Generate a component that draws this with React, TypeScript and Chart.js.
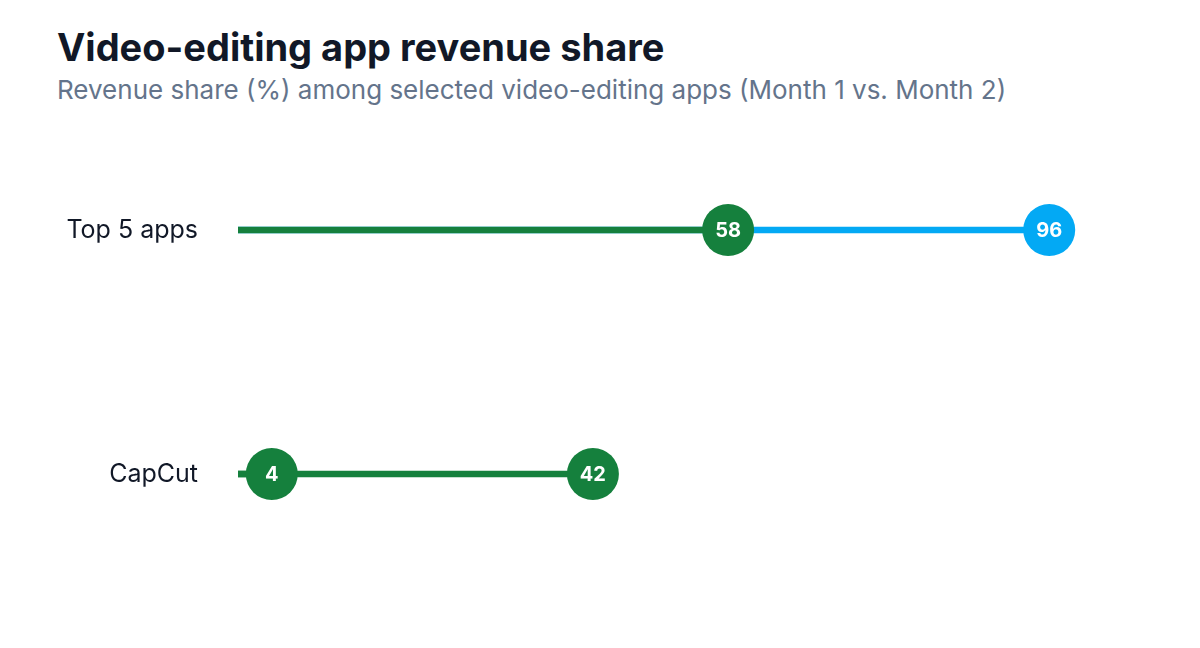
import React, { useEffect, useRef } from 'react'
import { Chart, registerables } from 'chart.js'

Chart.register(...registerables)

// ---------------------------------------------------------------------------
// data
// ---------------------------------------------------------------------------

const categories = ['Top 5 apps', 'CapCut']
const month1 = [58, 4]
const month2 = [96, 42]

const GREEN = '#15803d'
const BLUE = '#03a9f4'

// per-point colours as they appear in the picture
const month1Colors = [GREEN, GREEN]
const month2Colors = [BLUE, GREEN]

const FONT = 'Inter, "Noto Sans", sans-serif'

// writes the value inside each dot
const dotLabels = {
  id: 'dotLabels',
  afterDatasetsDraw(chart: Chart) {
    const { ctx } = chart
    ctx.save()
    ctx.font = `bold 20px ${FONT}`
    ctx.fillStyle = '#ffffff'
    ctx.textAlign = 'center'
    ctx.textBaseline = 'middle'
    chart.data.datasets.forEach((ds: any, i: number) => {
      if (ds.type !== 'line') return
      const meta = chart.getDatasetMeta(i)
      meta.data.forEach((pt: any, j: number) => {
        ctx.fillText(String(ds.data[j]), pt.x, pt.y + 1)
      })
    })
    ctx.restore()
  },
}

const DumbbellChart: React.FC = () => {
  const canvasRef = useRef<HTMLCanvasElement>(null)

  useEffect(() => {
    if (!canvasRef.current) return

    const chart = new Chart(canvasRef.current, {
      type: 'bar',
      data: {
        labels: categories,
        datasets: [
          {
            type: 'line',
            label: 'Month 1',
            data: month1,
            showLine: false,
            pointRadius: 26,
            pointHoverRadius: 26,
            pointBorderWidth: 0,
            pointBackgroundColor: month1Colors,
            order: 0,
          },
          {
            type: 'line',
            label: 'Month 2',
            data: month2,
            showLine: false,
            pointRadius: 26,
            pointHoverRadius: 26,
            pointBorderWidth: 0,
            pointBackgroundColor: month2Colors,
            order: 0,
          },
          {
            type: 'bar',
            label: 'Month 1 track',
            data: month1,
            backgroundColor: month1Colors,
            barThickness: 6,
            grouped: false,
            order: 1,
          },
          {
            type: 'bar',
            label: 'Month 2 track',
            data: month2,
            backgroundColor: month2Colors,
            barThickness: 6,
            grouped: false,
            order: 2,
          },
        ] as any,
      },
      options: {
        indexAxis: 'y',
        animation: false,
        responsive: true,
        maintainAspectRatio: false,
        layout: { padding: { left: 0, right: 117, top: 0, bottom: 0 } },
        plugins: {
          legend: { display: false },
          tooltip: { enabled: false },
        },
        scales: {
          x: {
            display: false,
            min: 0,
            max: 100,
          },
          y: {
            offset: true,
            border: { display: false },
            grid: { display: false, drawTicks: false },
            ticks: {
              padding: 40,
              color: '#111827',
              font: { family: FONT, size: 25 },
            },
            afterFit(scale: any) {
              scale.width = 238
            },
          },
        },
        elements: { point: { hitRadius: 0 } },
      } as any,
      plugins: [dotLabels],
    })

    return () => chart.destroy()
  }, [])

  return <canvas ref={canvasRef}></canvas>
}

export default function App() {
  return (
    <div
      style={{
        position: 'absolute',
        left: 0,
        top: 0,
        width: 1200,
        height: 648,
        background: '#ffffff',
        fontFamily: FONT,
      }}
    >
      <div
        style={{
          position: 'absolute',
          left: 57,
          top: 23,
          fontSize: 38,
          fontWeight: 700,
          color: '#111827',
          lineHeight: '48px',
          whiteSpace: 'nowrap',
        }}
      >
        Video-editing app revenue share
      </div>
      <div
        style={{
          position: 'absolute',
          left: 57,
          top: 73,
          fontSize: 26,
          color: '#64748b',
          lineHeight: '34px',
          whiteSpace: 'nowrap',
        }}
      >
        Revenue share (%) among selected video-editing apps (Month 1 vs. Month 2)
      </div>
      <div style={{ position: 'absolute', left: 0, top: 53, width: 1200, height: 598 }}>
        <DumbbellChart />
      </div>
    </div>
  )
}
